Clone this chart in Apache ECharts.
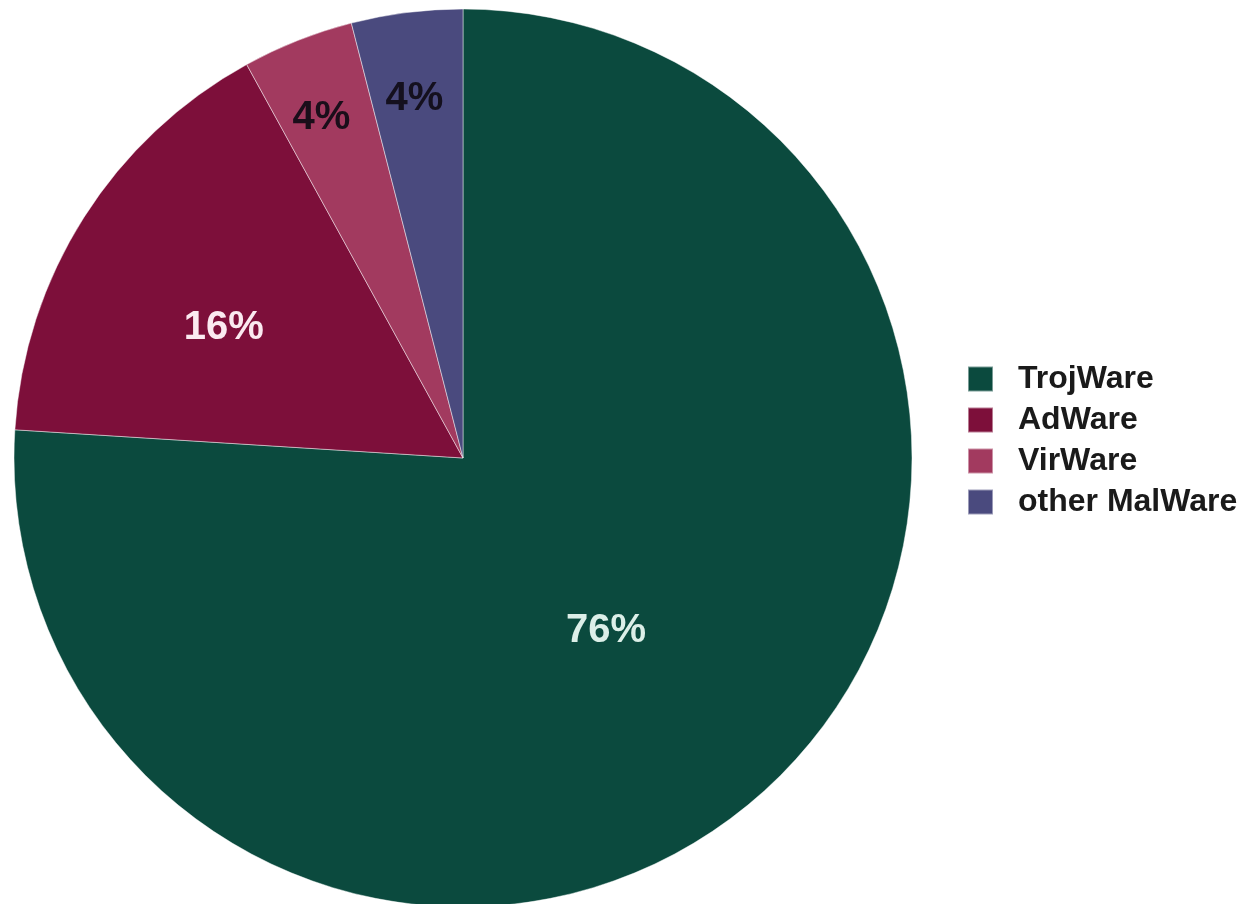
<!DOCTYPE html>
<html>
<head>
<meta charset="utf-8">
<script src="https://cdn.jsdelivr.net/npm/echarts@6/dist/echarts.min.js"></script>
<style>
html,body{margin:0;padding:0;background:#fff;}
#chart{width:1257px;height:904px;}
</style>
</head>
<body>
<div id="chart"></div>
<script>
const categories = ['TrojWare', 'AdWare', 'VirWare', 'other MalWare'];
const values = [76, 16, 4, 4];
const colors = ['#0b4a3e', '#7d0f3a', '#a23a5f', '#4a4a7e'];
const labelColors = ['#dcefe8', '#fbe9f0', '#1a0e1a', '#14101e'];

const chart = echarts.init(document.getElementById('chart'));
const center = [463, 458];
const R = 449;
// small nudges of the in-slice labels: horizontal padding [right, left] and downward shift
const labelPadX = [[22, 0], [14, 0], [10, 0], [4, 0]];
const labelShiftY = [9, 17, 5, 9];

function labelData(showIdx, solid) {
  return categories.map((c, i) => ({
    name: c,
    value: values[i],
    itemStyle: { color: solid ? colors[i] : 'rgba(0,0,0,0)' },
    label: {
      show: showIdx.includes(i),
      color: labelColors[i],
      padding: [0, labelPadX[i][0], 0, labelPadX[i][1]],
      formatter: '{s| }\n{d}%',
      rich: { s: { fontSize: 2, lineHeight: 2 * labelShiftY[i] } }
    }
  }));
}

const labelFont = { fontFamily: 'Liberation Sans, Arial, sans-serif', fontWeight: 'bold', fontSize: 40, lineHeight: 44 };

function labelSeries(radius, showIdx) {
  return {
    type: 'pie',
    center: center,
    radius: [0, radius],
    startAngle: 90,
    clockwise: true,
    silent: true,
    legendHoverLink: false,
    data: labelData(showIdx, false),
    itemStyle: { borderWidth: 0 },
    label: Object.assign({ position: 'inside' }, labelFont),
    labelLine: { show: false },
    emphasis: { disabled: true }
  };
}

chart.setOption({
  animation: false,
  legend: {
    orient: 'vertical',
    left: 962,
    top: 358,
    itemWidth: 25,
    itemHeight: 25,
    itemGap: 9,
    icon: 'rect',
    data: categories,
    textStyle: {
      fontFamily: 'Liberation Sans, Arial, sans-serif',
      fontWeight: 'bold',
      fontSize: 32,
      color: '#1a1a1a',
      padding: [0, 0, 0, 20]
    }
  },
  series: [
    {
      type: 'pie',
      center: center,
      radius: [0, R],
      startAngle: 90,
      clockwise: true,
      data: labelData([], true),
      itemStyle: { borderColor: 'rgba(255,255,255,0.45)', borderWidth: 1 },
      label: { show: false },
      labelLine: { show: false },
      emphasis: { disabled: true }
    },
    labelSeries(2 * 222, [0]),
    labelSeries(2 * 272, [1]),
    labelSeries(2 * 368, [2, 3])
  ]
});
</script>
</body>
</html>
